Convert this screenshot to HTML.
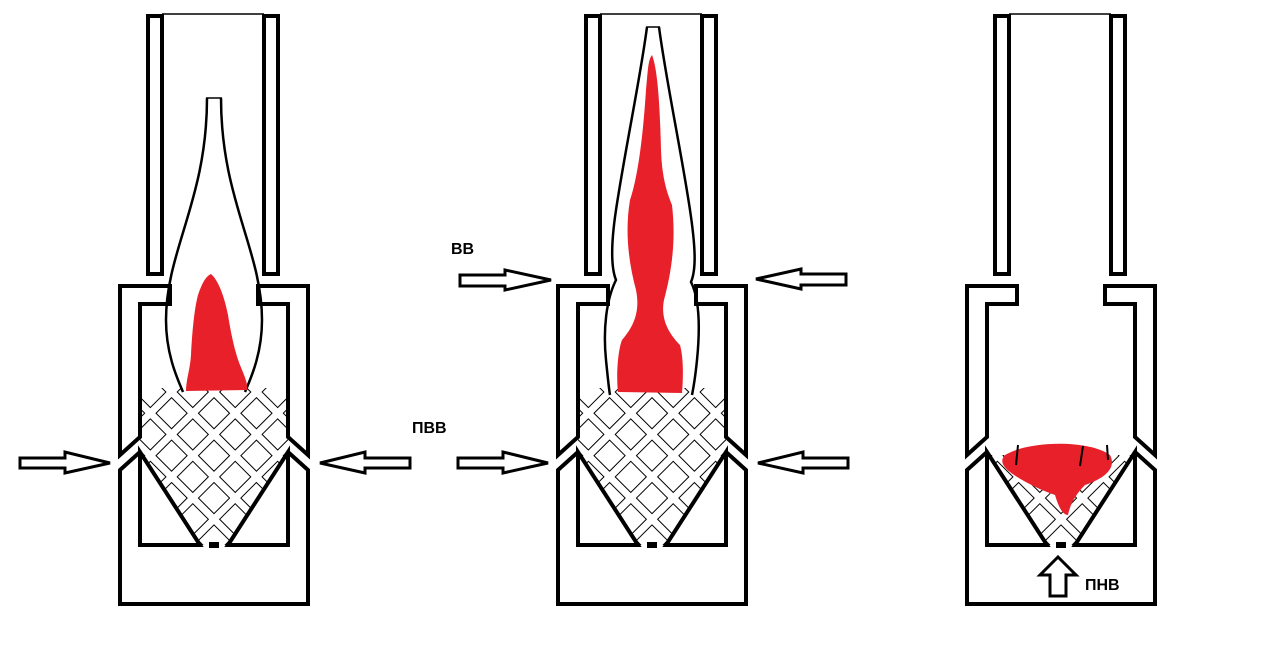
<!DOCTYPE html>
<html><head><meta charset="utf-8"><style>
html,body{margin:0;padding:0;background:#fff;}
svg{display:block}
text{font-family:"Liberation Sans",sans-serif;font-weight:bold;font-size:16px;fill:#000}
</style></head><body>
<svg width="1269" height="669" viewBox="0 0 1269 669" xmlns="http://www.w3.org/2000/svg">
<defs>
<pattern id="dia" width="30" height="30" patternUnits="userSpaceOnUse" patternTransform="translate(214,392) rotate(45)">
<rect x="4" y="4" width="22" height="22" fill="none" stroke="#000" stroke-width="1"/>
</pattern>
<clipPath id="c1"><polygon points="140,388 288,388 288,452 228,545 200,545 140,452"/></clipPath>
<clipPath id="c3"><polygon points="140,455 288,455 228,545 200,545"/></clipPath>
<g id="unit">
<g fill="none" stroke="#000" stroke-width="4" stroke-linejoin="miter">
<rect x="148" y="16" width="14" height="258"/>
<rect x="264" y="16" width="14" height="258"/>
<polygon points="170,286 120,286 120,455 140,437 140,304 170,304"/>
<polygon points="258,286 308,286 308,455 288,437 288,304 258,304"/>
<path d="M140,452 L140,545 L200,545 Z"/>
<path d="M288,452 L288,545 L228,545 Z"/>
<path d="M140,452 L120,470 L120,604 L308,604 L308,470 L288,452"/>
</g>
<line x1="162" y1="14" x2="264" y2="14" stroke="#000" stroke-width="1.5"/>
<rect x="209" y="542" width="10" height="6" fill="#000"/>
</g>
</defs>

<use href="#unit"/>
<rect x="140" y="388" width="148" height="160" fill="url(#dia)" clip-path="url(#c1)"/>
<g fill="none" stroke="#000" stroke-width="2.5">
<path d="M207,98 C207,200 166,250 166,320 C166,355 178,380 183,392"/>
<path d="M221,98 C221,200 262,250 262,320 C262,355 250,380 245,392"/>
<line x1="206" y1="98" x2="222" y2="98" stroke-width="1.5"/>
</g>
<path d="M211,274 C218,280 224,295 228,315 C232,340 236,355 240,365 C244,375 248,383 247,390 L186,391 C186,380 190,370 191,355 C192,335 194,310 198,295 C202,283 206,276 211,274 Z" fill="#e8202a"/>

<g transform="translate(438,0)">
<use href="#unit"/>
<rect x="140" y="388" width="148" height="160" fill="url(#dia)" clip-path="url(#c1)"/>
</g>
<g fill="none" stroke="#000" stroke-width="2.5">
<path d="M647,27 C640,80 625,150 616,210 C610,250 612,270 616,280 C606,300 603,330 606,360 C608,380 609,390 610,395"/>
<path d="M659,27 C666,80 681,150 690,210 C696,250 696,270 691,282 C700,300 700,330 697,360 C695,380 693,390 692,395"/>
<line x1="646" y1="27" x2="660" y2="27" stroke-width="1.5"/>
</g>
<path d="M652,55 C658,70 660,110 661,150 C662,180 668,195 672,205 C676,240 672,270 664,300 C660,320 670,335 680,345 C684,360 683,380 682,393 L618,392 C616,375 618,350 622,340 C635,325 640,310 636,290 C628,260 625,230 630,200 C640,170 644,120 646,90 C648,70 648,60 652,55 Z" fill="#e8202a"/>

<g transform="translate(847,0)">
<use href="#unit"/>
<rect x="140" y="388" width="148" height="160" fill="url(#dia)" clip-path="url(#c3)"/>
</g>
<path d="M1005,455 C1030,440 1090,440 1110,455 C1118,470 1100,480 1085,485 C1075,495 1070,505 1068,515 C1062,515 1058,505 1055,495 C1040,490 1020,480 1010,472 C1002,466 1000,460 1005,455 Z" fill="#e8202a"/>
<g stroke="#000" stroke-width="2" fill="none">
<path d="M1018,445 L1016,465"/><path d="M1083,446 L1080,466"/><path d="M1107,445 L1108,460"/>
</g>

<g fill="#fff" stroke="#000" stroke-width="3" stroke-linejoin="miter">
<polygon points="20,458 65,458 65,452 110,463 65,473 65,468 20,468"/>
<polygon points="410,458 365,458 365,452 320,463 365,473 365,468 410,468"/>
<polygon points="458,458 503,458 503,452 548,463 503,473 503,468 458,468"/>
<polygon points="848,458 803,458 803,452 758,463 803,473 803,468 848,468"/>
<polygon points="460,275 505,275 505,270 551,280 505,290 505,286 460,286"/>
<polygon points="846,274 801,274 801,269 756,279 801,289 801,285 846,285"/>
<polygon points="1058,557 1076,575 1066,575 1066,596 1050,596 1050,575 1040,575"/>
</g>

<text x="451" y="254">ВВ</text>
<text x="412" y="433">ПВВ</text>
<text x="1085" y="590">ПНВ</text>
</svg>
</body></html>
